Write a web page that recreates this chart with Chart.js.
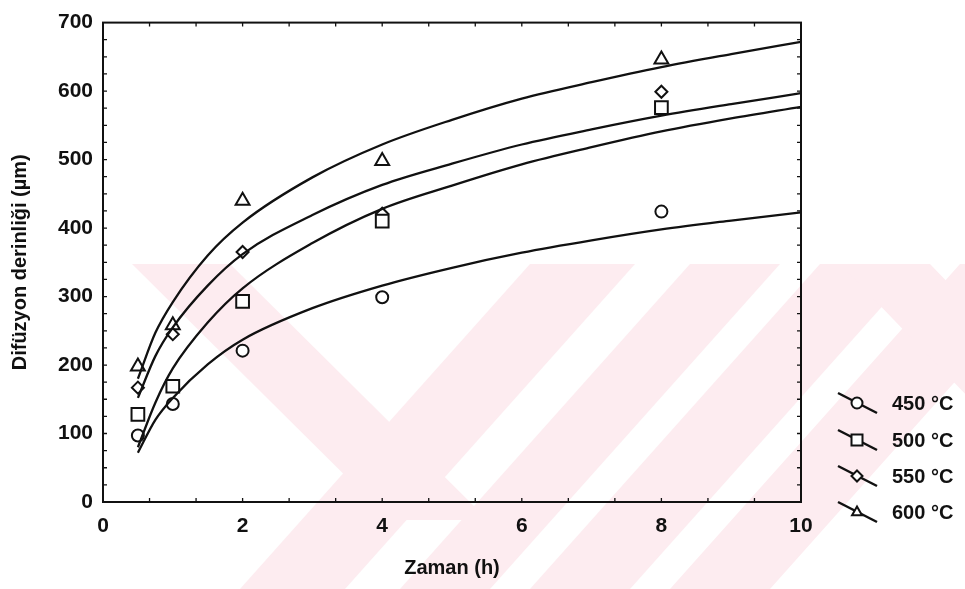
<!DOCTYPE html>
<html lang="tr">
<head>
<meta charset="UTF-8">
<title>Difüzyon derinliği</title>
<script src="https://cdn.jsdelivr.net/npm/chart.js"></script>
<style>
  html, body { margin: 0; padding: 0; background: #fff; }
  #kutu { width: 965px; height: 589px; }
</style>
</head>
<body>
<div id="kutu"><canvas id="grafik"></canvas></div>
<script>
    // Ölçüm noktaları
    const sicakliklar = ['450 °C', '500 °C', '550 °C', '600 °C'];
    const olcumZaman = [0.5, 1, 2, 4, 8];
    const olcum450 = [97, 143, 221, 299, 424];
    const olcum500 = [128, 169, 293, 410, 576];
    const olcum550 = [167, 245, 365, 421, 599];
    const olcum600 = [198, 258, 440, 498, 646];

    // Uydurulmuş eğriler
    const egriZaman = [0.5, 0.75, 1, 1.5, 2, 3, 4, 5, 6, 7, 8, 9, 10];
    const egri450 = [72, 120, 152, 201, 237, 283, 316, 342, 364, 382, 398, 411, 423];
    const egri500 = [80, 145, 195, 262, 312, 378, 428, 462, 493, 518, 541, 560, 577];
    const egri550 = [152, 213, 255, 316, 362, 419, 463, 494, 522, 544, 564, 581, 597];
    const egri600 = [180, 247, 292, 360, 408, 474, 522, 558, 589, 613, 635, 654, 672];

    const xMin = 0, xMax = 10, xAdim = 2;
    const yMin = 0, yMax = 700, yAdim = 100;

    const isaretler = ['circle', 'rect', 'rectRot', 'triangle'];
    const isaretBoyu = [6, 9, 6, 8];

    function noktalar(xs, ys) {
        return xs.map(function (x, i) { return { x: x, y: ys[i] }; });
    }

    const egriler = [egri450, egri500, egri550, egri600];
    const olcumler = [olcum450, olcum500, olcum550, olcum600];

    const veriSetleri = [];
    egriler.forEach(function (e) {
        veriSetleri.push({
            data: noktalar(egriZaman, e),
            showLine: true,
            borderColor: '#111',
            borderWidth: 2.3,
            pointRadius: 0,
            cubicInterpolationMode: 'monotone',
            isaret: false
        });
    });
    olcumler.forEach(function (o, i) {
        veriSetleri.push({
            label: sicakliklar[i],
            data: noktalar(olcumZaman, o),
            showLine: false,
            pointStyle: isaretler[i],
            pointRadius: isaretBoyu[i],
            pointBorderWidth: 2,
            pointBorderColor: '#111',
            pointBackgroundColor: '#fff',
            isaret: true
        });
    });

    // arkadaki soluk pembe filigran
    const filigran = {
        id: 'filigran',
        beforeDraw(chart) {
            const ctx = chart.ctx;
            ctx.save();
            ctx.fillStyle = '#fff';
            ctx.fillRect(0, 0, chart.width, chart.height);
            ctx.beginPath();
            ctx.rect(0, 264, chart.width, chart.height - 264);
            ctx.clip();
            ctx.fillStyle = 'rgb(253,236,240)';
            // [üst sol, üst sağ, alt sol, alt sağ, alt y]
            const bantlar = [
                [132, 230, 390, 488, 520],
                [530, 635, 240, 345, 589],
                [690, 780, 400, 490, 589],
                [820, 920, 530, 630, 589],
                [960, 1060, 670, 770, 589],
                [840, 930, 1000, 1090, 430]
            ];
            bantlar.forEach(function (b) {
                ctx.beginPath();
                ctx.moveTo(b[0], 264);
                ctx.lineTo(b[1], 264);
                ctx.lineTo(b[3], b[4]);
                ctx.lineTo(b[2], b[4]);
                ctx.closePath();
                ctx.fill();
            });
            ctx.restore();
        }
    };

    // çerçeve ve küçük çentikler
    const cerceve = {
        id: 'cerceve',
        afterDatasetsDraw(chart) {
            const ctx = chart.ctx;
            const a = chart.chartArea;
            const sx = chart.scales.x, sy = chart.scales.y;
            ctx.save();
            ctx.strokeStyle = '#111';
            ctx.lineWidth = 2;
            ctx.strokeRect(a.left, a.top, a.right - a.left, a.bottom - a.top);
            ctx.lineWidth = 1.3;
            ctx.beginPath();
            for (let k = 1; k < 15; k++) {
                const px = sx.getPixelForValue(k * 2 / 3);
                ctx.moveTo(px, a.bottom); ctx.lineTo(px, a.bottom - 4);
                ctx.moveTo(px, a.top); ctx.lineTo(px, a.top + 4);
            }
            for (let k = 1; k < 28; k++) {
                const py = sy.getPixelForValue(k * 25);
                ctx.moveTo(a.left, py); ctx.lineTo(a.left + 4, py);
                ctx.moveTo(a.right, py); ctx.lineTo(a.right - 4, py);
            }
            ctx.stroke();
            ctx.restore();
        }
    };

    function isaretCiz(ctx, stil, x, y, r) {
        ctx.beginPath();
        if (stil === 'circle') {
            ctx.arc(x, y, r, 0, Math.PI * 2);
        } else if (stil === 'rect') {
            ctx.rect(x - r, y - r, 2 * r, 2 * r);
        } else if (stil === 'rectRot') {
            ctx.moveTo(x, y - r); ctx.lineTo(x + r, y); ctx.lineTo(x, y + r); ctx.lineTo(x - r, y);
            ctx.closePath();
        } else {
            ctx.moveTo(x, y - r); ctx.lineTo(x + r * 0.9, y + r * 0.6); ctx.lineTo(x - r * 0.9, y + r * 0.6);
            ctx.closePath();
        }
        ctx.fill();
        ctx.stroke();
    }

    // sağdaki açıklama
    const aciklama = {
        id: 'aciklama',
        afterDraw(chart) {
            const ctx = chart.ctx;
            const satirlar = [403, 440, 476, 512];
            ctx.save();
            ctx.strokeStyle = '#111';
            let s = 0;
            chart.data.datasets.forEach(function (ds) {
                if (!ds.isaret) return;
                const y = satirlar[s];
                ctx.lineWidth = 2.5;
                ctx.beginPath();
                ctx.moveTo(838, y - 10);
                ctx.lineTo(877, y + 10);
                ctx.stroke();
                ctx.lineWidth = 2;
                ctx.fillStyle = '#fff';
                isaretCiz(ctx, ds.pointStyle, 857, y, 5.5);
                ctx.fillStyle = '#111';
                ctx.font = 'bold 20px "Liberation Sans", Arial, sans-serif';
                ctx.textBaseline = 'middle';
                ctx.fillText(ds.label, 892, y + 1);
                s++;
            });
            ctx.restore();
        }
    };

    const yazi = { family: '"Liberation Sans", Arial, sans-serif', weight: 'bold' };

    const grafik = new Chart(document.getElementById('grafik'), {
        type: 'scatter',
        data: { datasets: veriSetleri },
        plugins: [filigran, cerceve, aciklama],
        options: {
            responsive: true,
            maintainAspectRatio: false,
            animation: false,
            events: [],
            layout: { padding: { top: 17, right: 164, left: 0, bottom: 0 } },
            plugins: {
                legend: { display: false },
                tooltip: { enabled: false }
            },
            scales: {
                x: {
                    type: 'linear',
                    min: xMin,
                    max: xMax,
                    afterFit(scale) { scale.height = 87; },
                    grid: { display: false, drawTicks: false },
                    border: { display: false },
                    ticks: {
                        stepSize: xAdim,
                        color: '#111',
                        padding: 12,
                        font: Object.assign({ size: 21 }, yazi)
                    },
                    title: {
                        display: true,
                        text: 'Zaman (h)',
                        color: '#111',
                        padding: { top: 0, bottom: 9 },
                        font: Object.assign({ size: 20 }, yazi)
                    }
                },
                y: {
                    type: 'linear',
                    min: yMin,
                    max: yMax,
                    afterFit(scale) { scale.width = 103; },
                    grid: { display: false, drawTicks: false },
                    border: { display: false },
                    ticks: {
                        stepSize: yAdim,
                        color: '#111',
                        padding: 10,
                        font: Object.assign({ size: 21 }, yazi)
                    },
                    title: {
                        display: true,
                        text: 'Difüzyon derinliği (µm)',
                        color: '#111',
                        padding: { top: 8, bottom: 0 },
                        font: Object.assign({ size: 20 }, yazi)
                    }
                }
            }
        }
    });
</script>
</body>
</html>
